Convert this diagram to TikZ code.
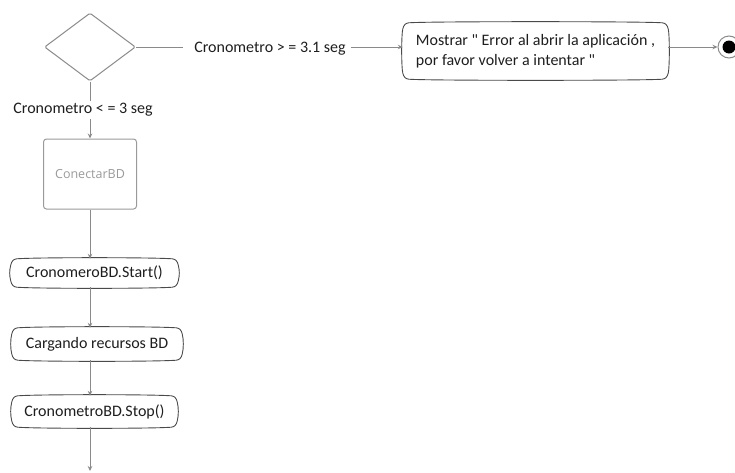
\documentclass[tikz,border=0pt]{standalone}
\usepackage{fontspec}
\setmainfont{Carlito}[Ligatures=TeXOff]
\newfontfamily\lightfont{Open Sans}
\usetikzlibrary{shapes.geometric,arrows.meta}
\definecolor{txt}{HTML}{1E1E1E}
\definecolor{edge}{HTML}{8A8A8A}
\definecolor{boxline}{HTML}{4A4A4A}
\definecolor{softline}{HTML}{9A9A9A}
\newcommand\actoutline[1]{%
  \draw[boxline,line width=0.9pt]
    ([yshift=-6pt]#1.north west)
      .. controls +(-1.5pt,-6pt) and +(-1.5pt,6pt) .. ([yshift=6pt]#1.south west)
      .. controls +(0.85pt,-3.4pt) and +(-3.5pt,0.26pt) .. ([xshift=6pt]#1.south west)
      .. controls +(20pt,-1.5pt) and +(-20pt,-1.5pt) .. ([xshift=-6pt]#1.south east)
      .. controls +(3.5pt,0.26pt) and +(-0.85pt,-3.4pt) .. ([yshift=6pt]#1.south east)
      .. controls +(1.5pt,6pt) and +(1.5pt,-6pt) .. ([yshift=-6pt]#1.north east)
      .. controls +(-0.85pt,3.4pt) and +(3.5pt,-0.26pt) .. ([xshift=-6pt]#1.north east)
      .. controls +(-20pt,1.5pt) and +(20pt,1.5pt) .. ([xshift=6pt]#1.north west)
      .. controls +(-3.5pt,-0.26pt) and +(0.85pt,3.4pt) .. cycle;}
\tikzset{
  actbox/.style={inner sep=0pt, text=txt, font=\fontsize{16}{19.5}\selectfont},
  lbl/.style={inner sep=0pt, text=txt, font=\fontsize{16}{19.5}\selectfont},
  conn/.style={edge, line width=0.8pt},
  arr/.style={conn, -{Stealth[length=5pt,width=4.5pt]}},
}
\begin{document}
\begin{tikzpicture}[x=1pt,y=-1pt]
\useasboundingbox (0,0) rectangle (735,472);
% decision
\node[diamond, draw=edge, line width=1pt, rounded corners=1.5pt, aspect=1.34,
      minimum width=91pt, minimum height=68pt, inner sep=0pt] (dia) at (90,47) {};
% label on the right branch
\node[lbl, anchor=base] (gt) at (270,52) {Cronometro > = 3.1 seg};
% error action
\node[actbox, minimum width=265pt, minimum height=56pt, inner xsep=12pt, align=left, anchor=center]
  (err) at (535.5,51) {Mostrar " Error al abrir la aplicación ,\\por favor volver a intentar "};
\actoutline{err}
% final node
\node[circle, draw=edge, line width=1pt, minimum size=22pt, inner sep=0pt] (fin) at (729,47) {};
\node[circle, fill=black, minimum size=13pt, inner sep=0pt] (finin) at (fin.center) {};
% ConectarBD
\node[draw=softline, line width=1pt, rounded corners=3pt, minimum width=93pt, minimum height=70pt,
      text=softline, font=\lightfont\fontsize{12.5}{14}\selectfont] (cbd) at (90,174) {ConectarBD};
% actions
\node[actbox, minimum width=167pt, minimum height=28pt] (start) at (94.5,273) {CronomeroBD.Start()};
\actoutline{start}
\node[actbox, minimum width=170pt, minimum height=32pt] (carg) at (97,344) {Cargando recursos BD};
\actoutline{carg}
\node[actbox, minimum width=165pt, minimum height=31pt] (stop) at (94.5,411.5) {CronometroBD.Stop()};
\actoutline{stop}
\coordinate (endpt) at (90,471);
% connectors
\draw[conn] (dia.east) -- ([xshift=-11pt]gt.west |- dia.east);
\draw[arr] ([xshift=5pt]gt.east |- dia.east) -- (err.west |- dia.east);
\draw[arr] (err.east |- fin.west) -- (fin.west);
\draw[arr] (dia.south) -- (cbd.north);
\node[lbl, fill=white, inner ysep=2pt] (le) at (83,110) {Cronometro < = 3 seg};
\draw[arr] (cbd.south) -- (cbd.south |- start.north);
\draw[arr] (cbd.south |- start.south) -- (cbd.south |- carg.north);
\draw[arr] (cbd.south |- carg.south) -- (cbd.south |- stop.north);
\draw[arr] (cbd.south |- stop.south) -- (endpt);
\end{tikzpicture}
\end{document}
